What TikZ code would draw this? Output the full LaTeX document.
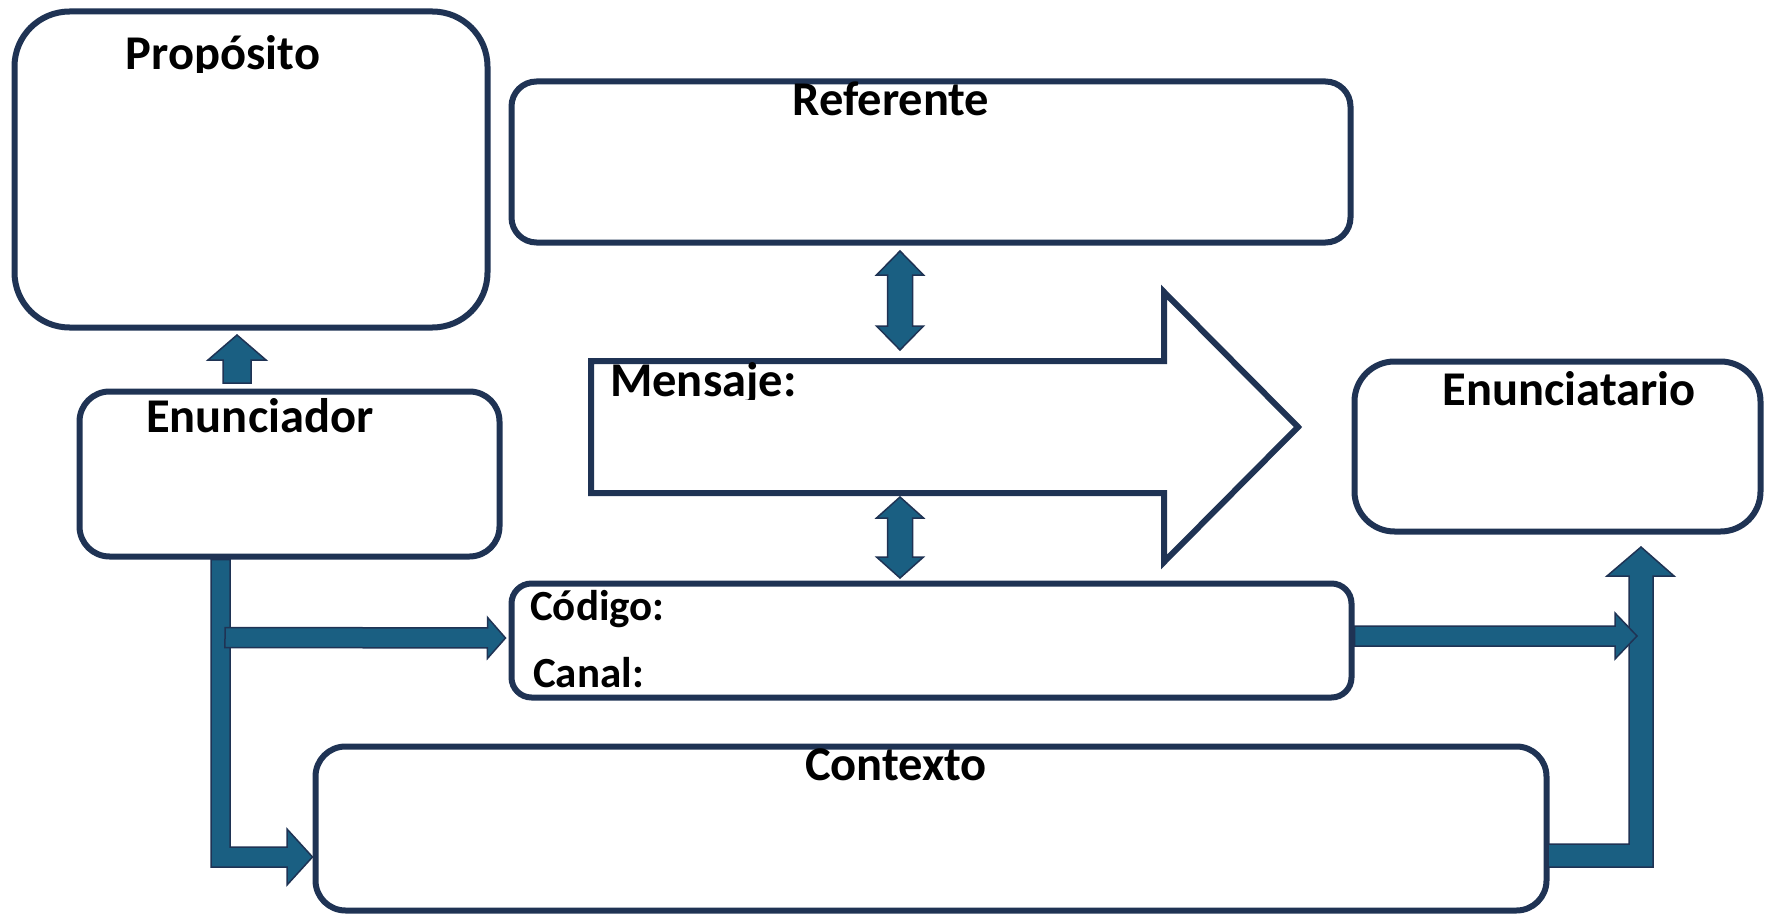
\documentclass[tikz,border=0pt]{standalone}
\usepackage{fontspec}
\setmainfont{Carlito}
\usetikzlibrary{calc}
\definecolor{navy}{HTML}{1F3354}
\definecolor{steel}{HTML}{1A5F82}

% straight block arrow: from, to, shaft half width, head half width, head length
\newcommand\blockarrow[5]{%
  \coordinate (ba-h) at ($(#2)!#5!(#1)$);
  \draw[blk] ($(#1)!#3!90:(#2)$) -- ($(ba-h)!#3!90:(#2)$) -- ($(ba-h)!#4!90:(#2)$)
    -- (#2) -- ($(ba-h)!#4!-90:(#2)$) -- ($(ba-h)!#3!-90:(#2)$)
    -- ($(#1)!#3!-90:(#2)$) -- cycle;}
% same with a head at both ends
\newcommand\twinarrow[5]{%
  \coordinate (ta-a) at ($(#1)!#5!(#2)$);
  \coordinate (ta-b) at ($(#2)!#5!(#1)$);
  \draw[blk] (#1) -- ($(ta-a)!#4!90:(#2)$) -- ($(ta-a)!#3!90:(#2)$)
    -- ($(ta-b)!#3!90:(#2)$) -- ($(ta-b)!#4!90:(#2)$) -- (#2)
    -- ($(ta-b)!#4!-90:(#2)$) -- ($(ta-b)!#3!-90:(#2)$)
    -- ($(ta-a)!#3!-90:(#2)$) -- ($(ta-a)!#4!-90:(#2)$) -- cycle;}

\begin{document}
\begin{tikzpicture}[x=1pt,y=-1pt,
  box/.style={draw=navy,line width=6pt,fill=white},
  blk/.style={fill=steel,draw=navy,line width=1.5pt,line join=miter},
  title/.style={font=\fontsize{48.5}{58}\selectfont\bfseries,inner sep=0pt,text=black},
  slot/.style={font=\fontsize{43}{52}\selectfont\bfseries,inner sep=0pt,text=black}]
\useasboundingbox (0,0) rectangle (1765,915);

% boxes
\node[box,rounded corners=55pt,minimum width=473pt,minimum height=316pt] (proposito) at (251,169.5) {};
\node[box,rounded corners=25pt,minimum width=839pt,minimum height=161pt] (referente) at (931,162) {};
\node[box,rounded corners=30pt,minimum width=420pt,minimum height=165pt] (enunciador) at (289.5,474) {};
\node[box,rounded corners=20pt,minimum width=840pt,minimum height=114pt] (codigo) at (931.5,640.5) {};
\node[box,rounded corners=30pt,minimum width=1231pt,minimum height=164pt] (contexto) at (931,828.5) {};
\node[box,rounded corners=40pt,minimum width=406pt,minimum height=170pt] (enunciatario) at (1557.5,446.5) {};

% the message, a hollow arrow
\draw[box] (591,361) -- (1164,361) -- (1164,292) -- (1298,427) -- (1164,562)
  -- (1164,493) -- (591,493) -- cycle;
\coordinate (msg-top) at (900,350);
\coordinate (msg-bot) at (900,497);

% labels
\begin{scope}
  \clip (0,0) rectangle (1765,73);
  \node[title,anchor=base] (t-proposito) at (223,70) {Propósito};
\end{scope}
\node[title,anchor=base] (t-referente) at (891,116) {Referente};
\begin{scope}
  \clip (591,361) rectangle (1164,399);
  \node[title,anchor=base west] (t-mensaje) at (610,396) {Mensaje:};
\end{scope}
\node[title,anchor=base west] (t-enunciador) at (146,432) {Enunciador};
\node[title,anchor=base] (t-enunciatario) at (1569,405) {Enunciatario};
\node[slot,anchor=base west] (t-codigo) at (530,620) {Código:};
\node[slot,anchor=base west] (t-canal) at (533,687) {Canal:};
\node[title,anchor=base] (t-contexto) at (896,780) {Contexto};

% enunciador -> proposito
\coordinate (up-from) at ($(enunciador.north)+(-52.5,-5.5)$);
\coordinate (up-to) at ($(proposito.south -| up-from)+(0,4.5)$);
\blockarrow{up-from}{up-to}{14pt}{29pt}{25pt}

% referente <-> mensaje <-> codigo
\twinarrow{$(referente.south)+(-31,5.5)$}{msg-top}{12.5pt}{23.5pt}{24pt}
\twinarrow{msg-bot}{$(codigo.north)+(-31.5,-2.5)$}{12.5pt}{23.5pt}{21pt}

% enunciador, down and into contexto
\coordinate (ctx-in) at (contexto.west |- 0,857);
\draw[blk] (enunciador.south -| 211,0) -- (enunciador.south -| 230,0) -- (230,847)
  -- (287,847) -- (287,829) -- (ctx-in) -- (287,885) -- (287,867) -- (211,867) -- cycle;

% contexto, right and up to enunciatario
\coordinate (enun-in) at ($(enunciatario.south)+(83.5,12.5)$);
\draw[blk] (1548,844) -- (1629,844) -- (1629,576) -- (1607,576) -- (enun-in)
  -- (1674,576) -- (1653,576) -- (1653,867) -- (1548,867) -- cycle;

% enunciador -> codigo, codigo -> enunciatario
\coordinate (cod-from) at (225,637.5);
\coordinate (cod-in) at ($(codigo.west)+(-3,-2.5)$);
\blockarrow{cod-from}{cod-in}{10pt}{20.5pt}{18pt}
\coordinate (cod-out) at ($(codigo.east)+(0,-4.5)$);
\coordinate (cod-to) at (1637,636);
\blockarrow{cod-out}{cod-to}{10pt}{23pt}{22pt}
\end{tikzpicture}
\end{document}
